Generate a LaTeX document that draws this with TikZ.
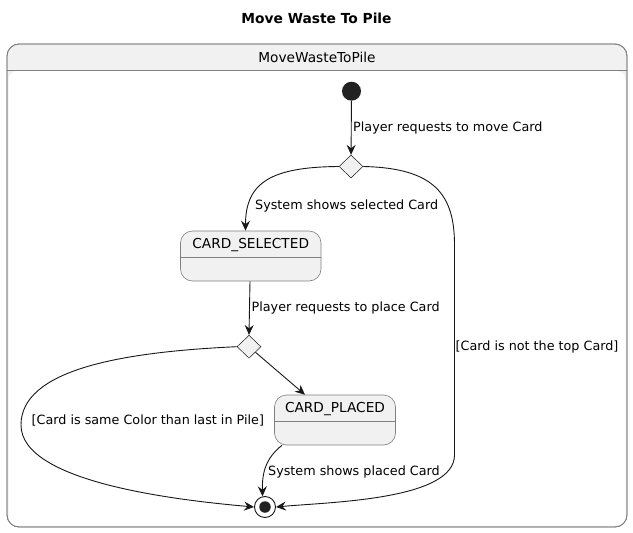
\documentclass[tikz,border=0pt]{standalone}
\usepackage{fontspec}
\setmainfont{DejaVu Sans}
\usetikzlibrary{shapes.geometric,arrows.meta,calc}
\definecolor{stfill}{HTML}{F1F1F1}
\definecolor{stline}{HTML}{181818}
\definecolor{boxline}{HTML}{808080}
\definecolor{dotc}{HTML}{222222}
\begin{document}
\begin{tikzpicture}[x=1pt,y=-1pt,
  lbl/.style={font=\fontsize{12.75}{15}\selectfont, inner sep=0pt, anchor=west, text=black},
  sname/.style={font=\fontsize{13.7}{16}\selectfont, inner sep=0pt},
  statebox/.style={draw=boxline, fill=stfill, rounded corners=12pt, line width=0.6pt, inner sep=0pt, minimum height=50pt},
  choice/.style={diamond, draw=stline, fill=stfill, line width=0.5pt, minimum width=24pt, minimum height=23pt, inner sep=0pt, aspect=1},
  trans/.style={draw=stline, line width=0.9pt, -{Stealth[length=10pt,width=9pt,inset=3.5pt]}}
]
\useasboundingbox (0,0) rectangle (633,533);
% title
\node[font=\bfseries\fontsize{13.8}{16}\selectfont, inner sep=0pt] (title) at (316.5,18.3) {Move Waste To Pile};
% composite state
\node[draw=boxline, fill=stfill, rounded corners=12pt, line width=0.8pt, minimum width=620pt, minimum height=483pt, inner sep=0pt] (outer) at (317,285.5) {};
\fill[white, rounded corners=9pt] (8.5,71) rectangle (625.5,525.5);
\draw[boxline, line width=0.8pt] (7,70.7) -- (627,70.7);
\draw[boxline, line width=0.8pt, rounded corners=12pt] (7,44) rectangle (627,527);
\node[sname] (hdr) at (317,57.3) {MoveWasteToPile};
% states
\node[circle, fill=dotc, minimum size=19pt, inner sep=0pt] (init) at (351.5,91.2) {};
\node[choice] (d1) at (351,166.5) {};
\node[statebox, minimum width=140.5pt] (cs) at (250.75,256) {};
\draw[boxline, line width=0.6pt] ($(cs.west)+(0,1.3)$) -- ($(cs.east)+(0,1.3)$);
\node[sname] (cst) at ($(cs.north)+(0,14.6)$) {CARD\_SELECTED};
\node[choice] (d2) at (249,346.7) {};
\node[statebox, minimum width=121pt] (cp) at (335,420) {};
\draw[boxline, line width=0.6pt] ($(cp.west)+(0,1.7)$) -- ($(cp.east)+(0,1.7)$);
\node[sname] (cpt) at ($(cp.north)+(0,14)$) {CARD\_PLACED};
\node[circle, draw=stline, fill=white, line width=0.9pt, minimum size=21pt, inner sep=0pt] (final) at (265,507) {};
\node[circle, fill=dotc, minimum size=11.5pt, inner sep=0pt] (finaldot) at (final.center) {};
% transitions
\draw[trans] (init) -- (d1);
\node[lbl] (l1) at (353,128) {Player requests to move Card};
\draw[trans] (d1.west) .. controls (272,167) and (245.5,182) .. ([xshift=-5.25pt]cs.north);
\node[lbl] (l2) at (255,206) {System shows selected Card};
\draw[trans] (d1.east) .. controls (435,168) and (454.5,195) .. (454.5,245) -- (454.5,455) .. controls (454.5,500) and (330,502) .. (final.east);
\node[lbl] (l3) at (455.5,347) {[Card is not the top Card]};
\draw[trans] ([xshift=-0.75pt]cs.south) -- (d2.north);
\node[lbl] (l4) at (251.5,308) {Player requests to place Card};
\draw[trans] (d2) -- ([xshift=-30pt]cp.north);
\draw[trans] (d2.west) .. controls (120,352) and (21,370) .. (21,425) .. controls (21,482) and (175,500) .. (final.west);
\node[lbl] (l5) at (31.5,420.7) {[Card is same Color than last in Pile]};
\draw[trans] ([xshift=-53pt]cp.south) .. controls (266,458) and (262,472) .. (final.103);
\node[lbl] (l6) at (268,472) {System shows placed Card};
\end{tikzpicture}
\end{document}
